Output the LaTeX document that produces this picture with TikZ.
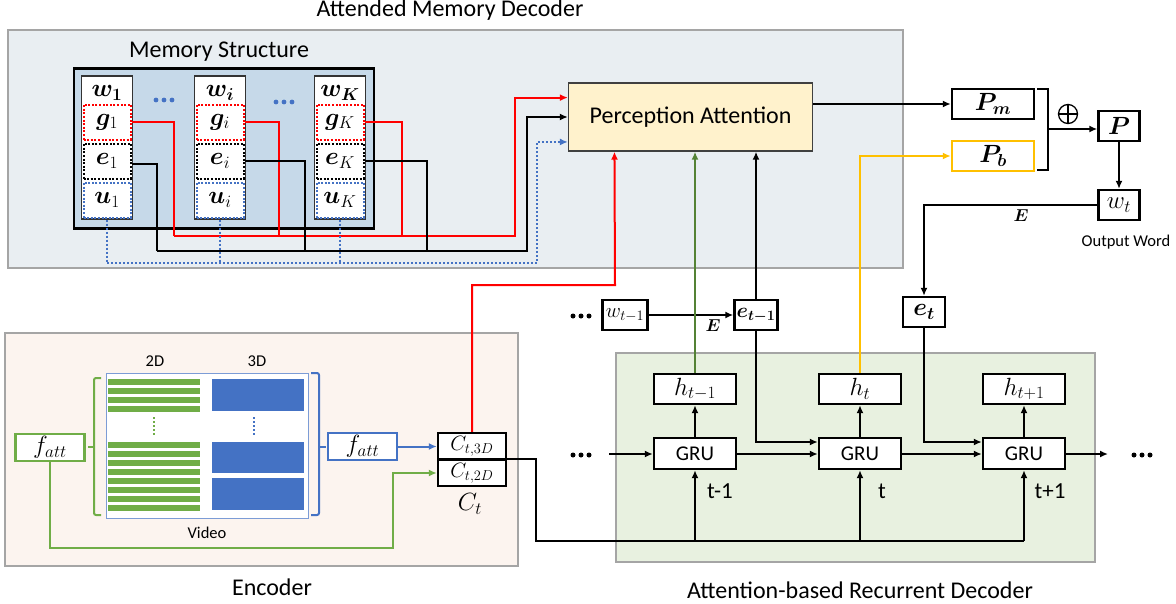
\documentclass[tikz,border=0pt]{standalone}
\usepackage{fontspec}
\setmainfont{Carlito}
\usepackage{amsmath}
\usepackage{bm}
\usetikzlibrary{calc,arrows.meta}
\definecolor{panelA}{HTML}{E9EEF2}
\definecolor{panelE}{HTML}{FCF4EF}
\definecolor{panelD}{HTML}{E8F1E0}
\definecolor{memfill}{HTML}{C6D9E9}
\definecolor{pafill}{HTML}{FFF2CC}
\definecolor{myred}{HTML}{FF0000}
\definecolor{myblue}{HTML}{4472C4}
\definecolor{mygreen}{HTML}{70AD47}
\definecolor{dkgreen}{HTML}{548235}
\definecolor{myyellow}{HTML}{FFC000}
\definecolor{panelborder}{HTML}{A5A5A5}
\tikzset{
  panel/.style={draw=panelborder, line width=1.5pt},
  titletext/.style={font=\fontsize{24}{27}\selectfont, inner sep=0pt},
  smalltext/.style={font=\fontsize{16.5}{18}\selectfont, inner sep=0pt},
  bx/.style={draw, line width=2.4pt, fill=white, inner sep=0pt, font=\fontsize{23.5}{25}\selectfont},
  narrowtext/.style={font=\fontsize{19.5}{21}\selectfont},
  col/.style={draw=black!80, line width=1.2pt, fill=white, inner sep=0pt, minimum width=51pt, minimum height=143pt},
  cell/.style={line width=2pt, dash pattern=on 2pt off 1.6pt, inner sep=0pt, minimum width=47pt, minimum height=35pt, font=\fontsize{23.5}{25}\selectfont},
  mathlbl/.style={inner sep=0pt, font=\fontsize{23.5}{25}\selectfont},
  arr/.style={-{Latex[length=8pt,width=7pt]}},
  conn/.style={line width=2pt},
  dotl/.style={line width=2pt, myblue, dash pattern=on 2pt off 2pt},
}
\begin{document}
\begin{tikzpicture}[x=1pt,y=-1pt]
\useasboundingbox (0,0) rectangle (1176,603);

% ---------- panels ----------
\fill[panelA] (8,30) rectangle (903,268);
\draw[panel] (8,30) rectangle (903,268);
\fill[panelE] (5,333) rectangle (518,566);
\draw[panel] (5,333) rectangle (518,566);
\fill[panelD] (616,353) rectangle (1095,562);
\draw[panel] (616,353) rectangle (1095,562);

\node[titletext] (tAMD) at (450,10) {Attended Memory Decoder};
\node[titletext] (tEnc) at (272,587) {Encoder};
\node[titletext] (tDec) at (860,590) {Attention-based Recurrent Decoder};

% ---------- memory structure ----------
\node[titletext] (tMem) at (219,52) {Memory Structure};
\node[draw, line width=2.8pt, fill=memfill, minimum width=300pt, minimum height=160pt, inner sep=0pt] (mem) at (224,148.5) {};

\foreach \n/\x/\s in {1/107/1, i/220/i, K/340/K}{
  \node[col] (col\n) at (\x,147.5) {};
  \node[mathlbl] (w\n) at (\x,93) {$\bm{w_{\s}}$};
  \node[cell, draw=myred] (g\n) at (\x,122) {$\bm{g}_{\s}$};
  \node[cell, draw=black] (e\n) at (\x,161) {$\bm{e}_{\s}$};
  \node[cell, draw=myblue] (u\n) at (\x,200) {$\bm{u}_{\s}$};
}
\foreach \cx/\cy in {164/100, 284/102}{
  \foreach \k in {-8,0,8} \fill[myblue] (\cx+\k,\cy) circle (2.4pt);
}

% ---------- perception attention ----------
\node[draw=black!75, line width=1.3pt, fill=pafill, minimum width=244pt, minimum height=68pt, inner sep=0pt,
      font=\fontsize{24}{27}\selectfont] (pa) at (690.5,117) {Perception Attention};

% red g connectors
\draw[conn, myred] (g1.east) -| (174,236);
\draw[conn, myred] (gi.east) -| (279,236);
\draw[conn, myred, arr] (gK.east) -| (402,236) -- (174,236) (402,236) -- (515,236) |- ($(pa.north west)!0.22!(pa.south west)$);
% black e connectors
\draw[conn] (e1.east) ++(0,3) -| (157,251);
\draw[conn] (ei.east) -| (305,251);
\draw[conn, arr] (eK.east) -| (427,251) -- (157,251) (427,251) -- (527,251) |- (pa.west);
% blue u connectors
\draw[dotl] (col1.south) -- (col1.south |- 0,263);
\draw[dotl] (coli.south) -- (coli.south |- 0,263);
\draw[dotl] (colK.south) -- (colK.south |- 0,263);
\draw[dotl, arr] (col1.south |- 0,263) -- (537,263) |- ($(pa.north west)!0.86!(pa.south west)$);

% ---------- output side ----------
\node[bx, minimum width=82pt, minimum height=30pt] (pm) at (993,104) {$\bm{P_m}$};
\node[bx, draw=myyellow, minimum width=82pt, minimum height=30pt] (pb) at (993,156) {$\bm{P_b}$};
\draw[line width=2.2pt] (1037,89) -- (1048,89) -- (1048,170) -- (1037,170);
\coordinate (brk) at (1049,129);
\node[draw, circle, line width=1.3pt, minimum size=19pt, inner sep=0pt] (oplus) at (1068,114) {};
\draw[line width=1.3pt] (oplus.north) -- (oplus.south) (oplus.west) -- (oplus.east);
\node[bx, minimum width=41pt, minimum height=30pt] (P) at (1119,126) {$\bm{P}$};
\node[bx, minimum width=41pt, minimum height=30pt] (wt) at (1119,205) {$w_t$};
\node[smalltext] (outw) at (1126,242) {Output Word};

\draw[conn, arr] (pa.east |- pm.west) -- (pm.west);
\draw[conn, arr] (brk) -- (brk -| P.west);
\draw[conn, arr] (P.south) -- (wt.north);

% ---------- decoder top row ----------
\node[bx, narrowtext, minimum width=45pt, minimum height=30pt] (wtm1) at (625,315) {$w_{t-1}$};
\node[bx, narrowtext, minimum width=43pt, minimum height=30pt] (etm1) at (756,315) {$\bm{e_{t-1}}$};
\node[bx, minimum width=42pt, minimum height=30pt] (et) at (924,312) {$\bm{e_t}$};
\foreach \k in {-8,0,8} \fill (581+\k,316) circle (2.5pt);
\node[mathlbl, font=\fontsize{19}{20}\selectfont] (E1) at (713,326) {$\bm{E}$};
\node[mathlbl, font=\fontsize{19}{20}\selectfont] (E2) at (1021,216) {$\bm{E}$};

\draw[conn, arr] (wtm1.east) -- (etm1.west);
\draw[conn, arr] (wt.west) -| (et.north);

% ---------- GRUs ----------
\foreach \n/\x/\hl/\tl/\tx in {a/695/{h_{t-1}}/t-1/720, b/860/{h_t}/t/882, c/1024/{h_{t+1}}/t+1/1050}{
  \node[bx, minimum width=82pt, minimum height=30pt] (h\n) at (\x,389) {$\hl$};
  \node[bx, minimum width=82pt, minimum height=31pt, font=\fontsize{21}{23}\selectfont] (gru\n) at (\x,453.5) {GRU};
  \draw[conn, arr] (gru\n.north) -- (h\n.south);
  \node[font=\fontsize{23}{25}\selectfont, inner sep=0pt] (lbl\n) at (\tx,491) {\tl};
}
\coordinate (gin) at (609,454);
\coordinate (gout) at (1108,454);
\foreach \k in {-8,0,8} \fill (581+\k,455) circle (2.5pt);
\foreach \k in {-8,0,8} \fill (1142+\k,455) circle (2.5pt);
\draw[conn, arr] (gin) -- (gin -| grua.west);
\draw[conn, arr] (grua.east |- gin) -- (gin -| grub.west);
\draw[conn, arr] (grub.east |- gin) -- (gin -| gruc.west);
\draw[conn, arr] (gruc.east |- gin) -- (gout);

\draw[conn, arr] (etm1.south) |- ($(grub.west)+(0,-11.5)$);
\draw[conn, arr] (et.south) |- ($(gruc.west)+(0,-11.5)$);

% connectors into perception attention from below
\draw[conn, dkgreen, arr] (ha.north) -- (ha.north |- pa.south);
\draw[conn, arr] (etm1.north) -- (etm1.north |- pa.south);
\draw[conn, myyellow, arr] (hb.north) |- (pb.west);

% ---------- encoder ----------
\node[bx, draw=mygreen, minimum width=69pt, minimum height=27pt] (fattL) at (50,447.5) {$f_{att}$};
\fill[white] (106,373) rectangle (308,518);
\draw[myblue!70, line width=1pt] (106,373) rectangle (308,518);
\foreach \yy in {382,391,400,409,445,454,463,472,481,490,499,508}
  \fill[mygreen] (108,\yy-2.7) rectangle (200,\yy+2.7);
\fill[myblue] (212,379) rectangle (304,411);
\fill[myblue] (212,442) rectangle (304,473);
\fill[myblue] (212,478) rectangle (304,510);
\draw[mygreen, line width=2pt, dash pattern=on 2pt off 2pt] (154,417) -- (154,436);
\draw[myblue, line width=2pt, dash pattern=on 2pt off 2pt] (254,417) -- (254,436);
\node[smalltext] (t2d) at (155,361) {2D};
\node[smalltext] (t3d) at (257,361) {3D};
\node[smalltext] (tvid) at (207,533) {Video};

\draw[mygreen, line width=2pt, rounded corners=2pt] (101,378) -- (94,378) -- (94,515) -- (101,515);
\draw[mygreen, line width=2pt] (94,447) -- (88,447);
\draw[myblue, line width=2pt, rounded corners=2pt] (311,373) -- (319,373) -- (319,515) -- (311,515);
\draw[myblue, line width=2pt] (319,447) -- (326,447);

\node[bx, draw=myblue, minimum width=69pt, minimum height=27pt] (fattR) at (362.5,446.5) {$f_{att}$};
\node[bx, narrowtext, minimum width=68pt, minimum height=26pt] (c3d) at (472,446) {$C_{t,3D}$};
\node[bx, narrowtext, minimum width=68pt, minimum height=26pt] (c2d) at (472,473) {$C_{t,2D}$};
\node[mathlbl] (ct) at (470,504) {$C_t$};

\draw[conn, myblue, arr] (fattR.east) -- (fattR.east -| c3d.west);
\draw[conn, mygreen, arr] (fattL.south) |- (393,548) |- (c2d.west);

% red from C_t,3D to perception attention
\draw[conn, myred, arr] (c3d.north) |- (615,285) -- ($(pa.south west)!0.19!(pa.south east)$);

% black bus from C_t to GRUs
\draw[conn] (c2d.north east) -| (536,541) -- (gruc.south |- 0,541);
\draw[conn, arr] (gruc.south |- 0,541) -- (gruc.south);
\draw[conn, arr] (grua.south |- 0,541) -- (grua.south);
\draw[conn, arr] (grub.south |- 0,541) -- (grub.south);
\end{tikzpicture}
\end{document}
